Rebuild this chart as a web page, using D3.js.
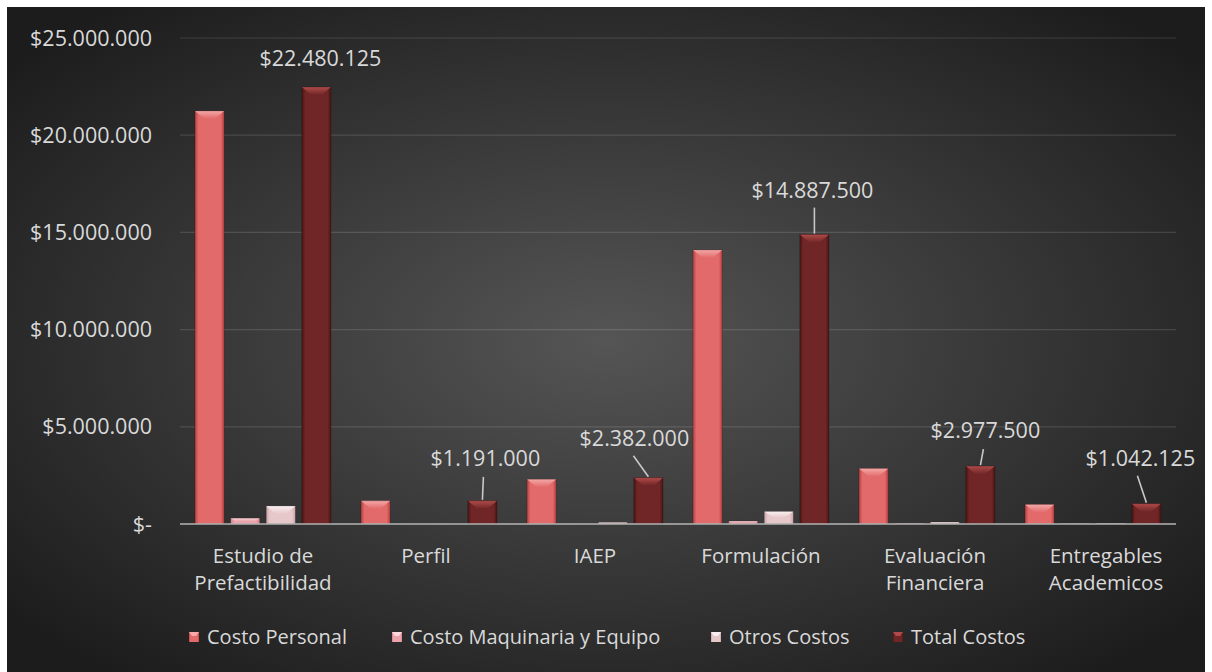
<!DOCTYPE html>
<html>
<head>
<meta charset="utf-8">
<script src="https://cdn.jsdelivr.net/npm/d3@7/dist/d3.min.js"></script>
<style>
  html, body { margin: 0; padding: 0; background: #ffffff; }
  svg { display: block; }
  text { font-family: "Open Sans", "Noto Sans", sans-serif; fill: #d9d9d9; }
</style>
</head>
<body>
<svg id="chart" width="1212" height="672"></svg>
<script>
// ---------- DATA ----------
const categories = [
  ["Estudio de", "Prefactibilidad"],
  ["Perfil"],
  ["IAEP"],
  ["Formulación"],
  ["Evaluación", "Financiera"],
  ["Entregables", "Academicos"]
];
const seriesNames = ["Costo Personal", "Costo Maquinaria y Equipo", "Otros Costos", "Total Costos"];
const costoPersonal   = [21250000, 1191000, 2300000, 14100000, 2850000, 1000000];
const costoMaquinaria = [  300000,       0,       0,   150000,   30000,   10000];
const otrosCostos     = [  930125,       0,   82000,   637500,   97500,   32125];
const totalCostos     = [22480125, 1191000, 2382000, 14887500, 2977500, 1042125];
const yTicks = [0, 5000000, 10000000, 15000000, 20000000, 25000000];

// ---------- LAYOUT / STYLE ----------
const W = 1212, H = 672;
const plot = { left: 180, right: 1176, top: 38, bottom: 524 };
// label offset from top-centre of the total bar
const labelLayout = [
  { dx: 4,  dy: -21, lead: null },
  { dx: 3,  dy: -35, lead: [1, -24] },
  { dx: -14, dy: -32, lead: [-15, -22] },
  { dx: -2, dy: -37, lead: [0, -27] },
  { dx: 5,  dy: -28, lead: [3, -17] },
  { dx: -6, dy: -38, lead: [-9, -28] }
];
const xLabelShift = [0, -3, 0, 0, 8, 13];
const legendX = [189, 392, 711, 893];
const styles = [
  { edge: "#b84040", mid: "#e26a6a", bevel: "#f4a8a8" },
  { edge: "#d07c86", mid: "#eca4ac", bevel: "#fad8dc" },
  { edge: "#c8a2a6", mid: "#e6c8cb", bevel: "#fbf0f1" },
  { edge: "#4a1414", mid: "#702626", bevel: "#b04a4a" }
];

const svg = d3.select("#chart");
const defs = svg.append("defs");

// background
const bg = defs.append("radialGradient").attr("id", "bg")
  .attr("cx", "50%").attr("cy", "50%").attr("r", "65%");
bg.append("stop").attr("offset", "0%").attr("stop-color", "#555555");
bg.append("stop").attr("offset", "100%").attr("stop-color", "#1c1c1c");
svg.append("rect").attr("x", 7).attr("y", 7).attr("width", 1198).attr("height", H - 7)
  .attr("fill", "url(#bg)");

styles.forEach((s, i) => {
  const g = defs.append("linearGradient").attr("id", "bar" + i)
    .attr("x1", "0%").attr("x2", "100%").attr("y1", "0%").attr("y2", "0%");
  g.append("stop").attr("offset", "0%").attr("stop-color", s.edge);
  g.append("stop").attr("offset", "12%").attr("stop-color", s.mid);
  g.append("stop").attr("offset", "88%").attr("stop-color", s.mid);
  g.append("stop").attr("offset", "100%").attr("stop-color", s.edge);
  const b = defs.append("linearGradient").attr("id", "bev" + i)
    .attr("x1", "0%").attr("x2", "0%").attr("y1", "0%").attr("y2", "100%");
  b.append("stop").attr("offset", "0%").attr("stop-color", s.bevel);
  b.append("stop").attr("offset", "100%").attr("stop-color", s.mid);
});

// scales
const catIdx = categories.map((c, i) => i);
const x0 = d3.scaleBand().domain(catIdx).range([plot.left, plot.right]).padding(0);
const x1 = d3.scaleBand().domain(d3.range(4)).range([15, x0.bandwidth() - 15]).paddingInner(0.18).paddingOuter(0);
const y = d3.scaleLinear().domain([0, 25000000]).range([plot.bottom, plot.top]);

const loc = d3.formatLocale({ decimal: ",", thousands: ".", grouping: [3], currency: ["$", ""] });
const fmt = v => v === 0 ? "$-" : loc.format("$,.0f")(v);

// gridlines
svg.append("g").selectAll("line").data(yTicks.filter(t => t > 0)).join("line")
  .attr("x1", plot.left).attr("x2", plot.right)
  .attr("y1", d => y(d)).attr("y2", d => y(d))
  .attr("stroke", "rgba(255,255,255,0.13)").attr("stroke-width", 1.2);

// y labels
svg.append("g").selectAll("text").data(yTicks).join("text")
  .attr("x", 152).attr("y", d => y(d)).attr("dy", "0.35em")
  .attr("text-anchor", "end").style("font-size", "21.5px")
  .text(fmt);

// bars
const seriesData = [costoPersonal, costoMaquinaria, otrosCostos, totalCostos];
const barG = svg.append("g");
seriesData.forEach((vals, si) => {
  vals.forEach((v, ci) => {
    if (v <= 0) return;
    const bx = x0(ci) + x1(si), bw = x1.bandwidth();
    const top = y(v), h = plot.bottom - top;
    const g = barG.append("g");
    g.append("rect").attr("x", bx).attr("y", top).attr("width", bw).attr("height", h)
      .attr("fill", `url(#bar${si})`);
    const bd = Math.min(8, h * 0.5);
    const inset = Math.min(bw * 0.33, bd * 1.6);
    g.append("path")
      .attr("d", `M${bx},${top}L${bx + bw},${top}L${bx + bw - inset},${top + bd}L${bx + inset},${top + bd}Z`)
      .attr("fill", `url(#bev${si})`);
    g.append("rect").attr("x", bx).attr("y", top).attr("width", bw).attr("height", h)
      .attr("fill", "none").attr("stroke", "rgba(0,0,0,0.25)").attr("stroke-width", 0.8);
  });
});

// axis baseline
svg.append("line").attr("x1", plot.left).attr("x2", plot.right)
  .attr("y1", plot.bottom).attr("y2", plot.bottom)
  .attr("stroke", "#b5b5b5").attr("stroke-width", 1.6);

// x labels
const xl = svg.append("g").selectAll("text").data(categories).join("text")
  .attr("text-anchor", "middle").style("font-size", "20.5px")
  .attr("x", (d, i) => x0(i) + x0.bandwidth() / 2 + xLabelShift[i])
  .attr("y", 563);
xl.selectAll("tspan").data(d => d).join("tspan")
  .attr("x", function () { return d3.select(this.parentNode).attr("x"); })
  .attr("dy", (d, i) => i === 0 ? 0 : 27)
  .text(d => d);

// data labels for totals
const lab = svg.append("g");
totalCostos.forEach((v, ci) => {
  const cx = x0(ci) + x1(3) + x1.bandwidth() / 2;
  const top = y(v);
  const L = labelLayout[ci];
  if (L.lead) {
    lab.append("line")
      .attr("x1", cx + L.lead[0]).attr("y1", top + L.lead[1])
      .attr("x2", cx).attr("y2", top - 1)
      .attr("stroke", "#c8c8c8").attr("stroke-width", 1.6);
  }
  lab.append("text").attr("x", cx + L.dx).attr("y", top + L.dy)
    .attr("text-anchor", "middle").style("font-size", "21.5px").text(fmt(v));
});

// legend
const lg = svg.append("g");
seriesNames.forEach((n, i) => {
  const g = lg.append("g").attr("transform", `translate(${legendX[i]},632)`);
  g.append("rect").attr("width", 10).attr("height", 10).attr("fill", `url(#bar${i})`);
  g.append("path").attr("d", "M0,0L10,0L7,4L3,4Z").attr("fill", styles[i].bevel);
  g.append("text").attr("x", 18).attr("y", 5).attr("dy", "0.35em")
    .style("font-size", "20px").text(n);
});
</script>
</body>
</html>
